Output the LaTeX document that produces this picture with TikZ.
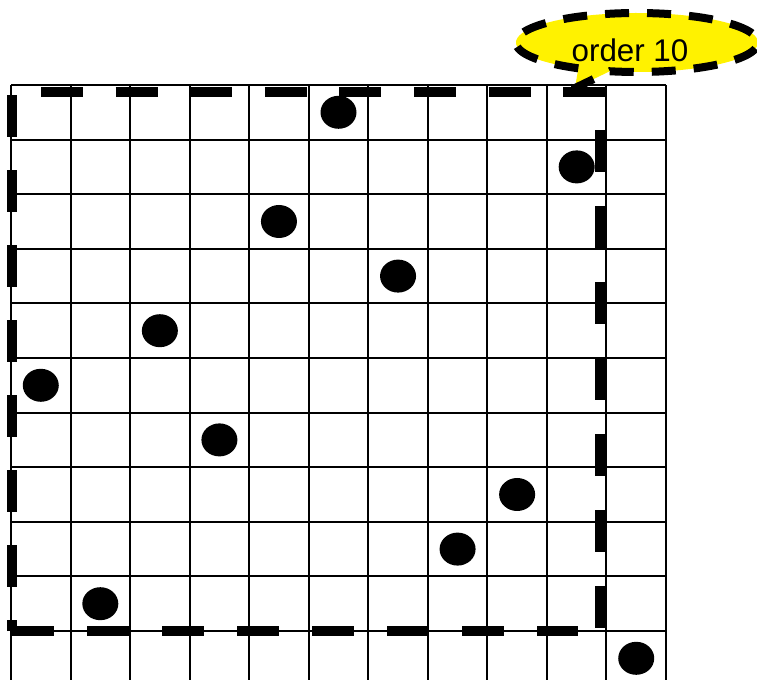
\documentclass[tikz,border=0pt]{standalone}
\usepackage{fontspec}
\setmainfont{Liberation Sans}
\usetikzlibrary{shapes.geometric}
\begin{document}
\begin{tikzpicture}[x=0.75pt,y=-0.75pt,
  gridline/.style={line width=1.5pt, black},
  dashbox/.style={line width=7.5pt, black},
  dotn/.style={ellipse, fill=black, inner sep=0pt, minimum width=27pt, minimum height=24.75pt},
  callout/.style={line width=6pt, black, fill=yellow, dash pattern=on 18pt off 13.5pt},
  lbltext/.style={font=\fontsize{23.5}{27}\selectfont, inner sep=0pt}]
\useasboundingbox (0,0) rectangle (757,680);
\clip (0,0) rectangle (757,680);
% grid
\foreach \i in {0,...,10}
  \draw[gridline] (11,{85+54.6*\i}) -- (666,{85+54.6*\i});
\foreach \j in {0,...,11}
  \draw[gridline] ({11+59.545*\j},85) -- ({11+59.545*\j},690);
% dashed square
\draw[dashbox, dash pattern=on 31.5pt off 24.45pt] (41,92) -- (605,92);
\draw[dashbox, dash pattern=on 31.5pt off 24.75pt] (12,631) -- (578,631);
\draw[dashbox, dash pattern=on 31.5pt off 24.75pt, dash phase=23.25pt] (12,631) -- (12,93);
\draw[dashbox, dash pattern=on 31.5pt off 25.5pt] (600,130) -- (600,631);
% dots
\foreach \r/\c in {0/5,1/9,2/4,3/6,4/2,5/0,6/3,7/8,8/7,9/1,10/10}
  \node[dotn] (d\r) at ({11+59.545*(\c+0.5)},{85+54.6*(\r+0.5)}) {};
% callout
\coordinate (tip) at (575,88);
\draw[callout] plot[domain=119:463, samples=150] ({637+121*cos(\x)},{42.5+29.5*sin(\x)}) -- (tip) -- cycle;
\node[lbltext] (lbl) at (630,50) {order 10};
\end{tikzpicture}
\end{document}
